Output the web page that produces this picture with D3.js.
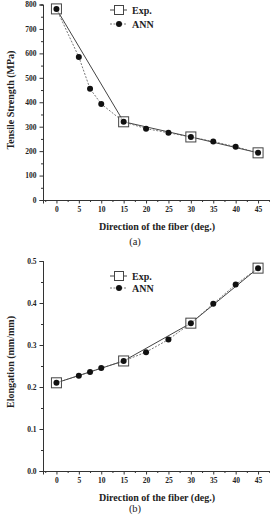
<!DOCTYPE html>
<html>
<head>
<meta charset="utf-8">
<script src="https://cdn.jsdelivr.net/npm/d3@7"></script>
<style>
  body { margin: 0; background: #fff; }
  svg { display: block; }
  text { font-family: "Liberation Serif", "DejaVu Serif", serif; }
</style>
</head>
<body>
<div id="chart"></div>
<script>
// Data
var expAngles = [0, 15, 30, 45];
var annAngles = [0, 5, 7.5, 10, 15, 20, 25, 30, 35, 40, 45];

var strengthExp = [782, 320, 258, 193];
var strengthAnn = [782, 585, 455, 393, 320, 292, 275, 258, 239, 218, 193];

var elongExp = [0.21, 0.262, 0.352, 0.483];
var elongAnn = [0.21, 0.227, 0.236, 0.245, 0.262, 0.283, 0.313, 0.352, 0.398, 0.444, 0.483];

var xTicks = [0, 5, 10, 15, 20, 25, 30, 35, 40, 45];
var strengthTicks = [0, 100, 200, 300, 400, 500, 600, 700, 800];
var elongTicks = [0.0, 0.1, 0.2, 0.3, 0.4, 0.5];

var width = 270, height = 517;

var svg = d3.select("#chart").append("svg")
    .attr("width", width)
    .attr("height", height);

// draws one panel
function drawPanel(opt) {
    var x = d3.scaleLinear().domain([-3, 48]).range([43, 271.5]);
    var y = d3.scaleLinear().domain(opt.yDomain).range([opt.bottom, opt.top]);

    var g = svg.append("g");

    // minor ticks
    var xMinor = d3.range(-2.5, 48, 5);
    var xAxisMinor = d3.axisBottom(x).tickValues(xMinor).tickSize(2).tickFormat("");
    g.append("g").attr("transform", "translate(0," + opt.bottom + ")").call(xAxisMinor);

    var xAxis = d3.axisBottom(x).tickValues(xTicks).tickSize(3.5).tickPadding(3)
        .tickFormat(d3.format("d"));
    g.append("g").attr("transform", "translate(0," + opt.bottom + ")").call(xAxis);

    var yAxisMinor = d3.axisLeft(y).tickValues(opt.yMinor).tickSize(2).tickFormat("");
    g.append("g").attr("transform", "translate(43,0)").call(yAxisMinor);

    var yAxis = d3.axisLeft(y).tickValues(opt.yTicks).tickSize(3.5).tickPadding(3)
        .tickFormat(opt.yFormat);
    g.append("g").attr("transform", "translate(43,0)").call(yAxis);

    g.selectAll(".domain").attr("stroke", "#333").attr("stroke-width", 1);
    g.selectAll(".tick line").attr("stroke", "#333");
    g.selectAll(".tick text")
        .style("font-family", "Liberation Serif, serif")
        .style("font-weight", "bold")
        .style("font-size", "7.5px")
        .attr("fill", "#222");

    // lines
    var line = d3.line().x(function(d) { return x(d[0]); }).y(function(d) { return y(d[1]); });
    var expPts = expAngles.map(function(a, i) { return [a, opt.exp[i]]; });
    var annPts = annAngles.map(function(a, i) { return [a, opt.ann[i]]; });

    g.append("path").datum(expPts).attr("d", line)
        .attr("fill", "none").attr("stroke", "#444").attr("stroke-width", 1);
    g.append("path").datum(annPts).attr("d", line)
        .attr("fill", "none").attr("stroke", "#555").attr("stroke-width", 0.8)
        .attr("stroke-dasharray", "2,1.5");

    // exp squares
    g.selectAll(".sq").data(expPts).enter().append("rect")
        .attr("x", function(d) { return x(d[0]) - 5; })
        .attr("y", function(d) { return y(d[1]) - 5; })
        .attr("width", 10).attr("height", 10)
        .attr("fill", "#fff").attr("fill-opacity", 0.6)
        .attr("stroke", "#444").attr("stroke-width", 1);

    // ann dots
    g.selectAll(".dot").data(annPts).enter().append("circle")
        .attr("cx", function(d) { return x(d[0]); })
        .attr("cy", function(d) { return y(d[1]); })
        .attr("r", 3).attr("fill", "#111");

    // legend
    var lg = g.append("g");
    lg.append("line").attr("x1", 110).attr("x2", 127).attr("y1", opt.legY).attr("y2", opt.legY)
        .attr("stroke", "#444");
    lg.append("rect").attr("x", 114.5).attr("y", opt.legY - 4.5).attr("width", 9).attr("height", 9)
        .attr("fill", "#fff").attr("stroke", "#444");
    lg.append("text").attr("x", 132).attr("y", opt.legY + 3.5).text("Exp.")
        .style("font-weight", "bold").style("font-size", "10px").attr("fill", "#222");
    var ly2 = opt.legY + opt.legGap;
    lg.append("line").attr("x1", 110).attr("x2", 127).attr("y1", ly2).attr("y2", ly2)
        .attr("stroke", "#555").attr("stroke-width", 0.8).attr("stroke-dasharray", "2,1.5");
    lg.append("circle").attr("cx", 119).attr("cy", ly2).attr("r", 3).attr("fill", "#111");
    lg.append("text").attr("x", 132).attr("y", ly2 + 3.5).text("ANN")
        .style("font-weight", "bold").style("font-size", "10px").attr("fill", "#222");

    // axis titles
    g.append("text")
        .attr("transform", "translate(14," + opt.yTitleY + ") rotate(-90)")
        .attr("text-anchor", "middle")
        .style("font-weight", "bold").style("font-size", "10px").attr("fill", "#222")
        .text(opt.yTitle);

    g.append("text").attr("x", 157).attr("y", opt.bottom + 30)
        .attr("text-anchor", "middle")
        .style("font-weight", "bold").style("font-size", "10px").attr("fill", "#222")
        .text("Direction of the fiber (deg.)");

    g.append("text").attr("x", 135).attr("y", opt.labelY)
        .attr("text-anchor", "middle")
        .style("font-size", "10.5px").attr("fill", "#222")
        .text(opt.label);
}

drawPanel({
    top: 4.5, bottom: 200,
    yDomain: [0, 800],
    yTicks: strengthTicks,
    yMinor: d3.range(50, 800, 100),
    yFormat: d3.format("d"),
    exp: strengthExp, ann: strengthAnn,
    legY: 10, legGap: 14,
    yTitle: "Tensile Strength (MPa)", yTitleY: 100,
    label: "(a)", labelY: 245
});

drawPanel({
    top: 261, bottom: 471,
    yDomain: [0, 0.5],
    yTicks: elongTicks,
    yMinor: d3.range(0.05, 0.5, 0.1),
    yFormat: d3.format(".1f"),
    exp: elongExp, ann: elongAnn,
    legY: 276, legGap: 12,
    yTitle: "Elongation (mm/mm)", yTitleY: 362,
    label: "(b)", labelY: 512
});
</script>
</body>
</html>
